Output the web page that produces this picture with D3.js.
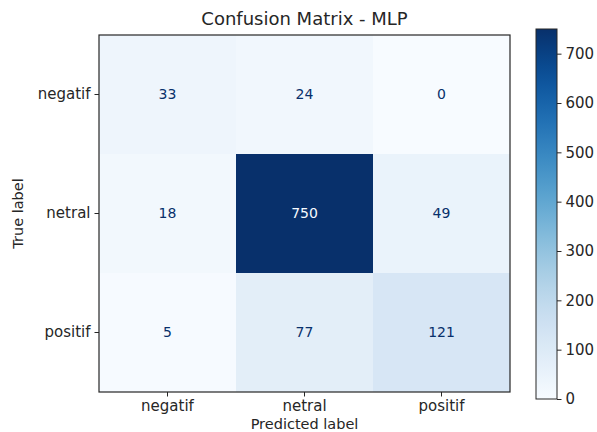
<!DOCTYPE html>
<html>
<head>
<meta charset="utf-8">
<script src="https://cdn.jsdelivr.net/npm/d3@7"></script>
<style>
  body { margin: 0; background: #fff; }
  text { font-family: "DejaVu Sans", sans-serif; fill: #262626; }
</style>
</head>
<body>
<svg width="597" height="432"></svg>
<script>
// Data
const labels = ["negatif", "netral", "positif"];
const row0 = [33, 24, 0];
const row1 = [18, 750, 49];
const row2 = [5, 77, 121];
const colorbarTicks = [0, 100, 200, 300, 400, 500, 600, 700];
const vmax = 750;

const matrix = [row0, row1, row2];

const svg = d3.select("svg");
const box = {left: 99, top: 35, width: 411, height: 357};

const x = d3.scaleBand().domain(labels).range([box.left, box.left + box.width]);
const y = d3.scaleBand().domain(labels).range([box.top, box.top + box.height]);
const color = d3.scaleSequential(d3.interpolateBlues).domain([0, vmax]);

const cells = [];
matrix.forEach((row, i) => row.forEach((v, j) => cells.push({t: labels[i], p: labels[j], v})));

// Cells
svg.selectAll("rect.cell")
  .data(cells)
  .enter()
  .append("rect")
  .attr("class", "cell")
  .attr("x", d => x(d.p))
  .attr("y", d => y(d.t))
  .attr("width", x.bandwidth())
  .attr("height", y.bandwidth())
  .attr("fill", d => color(d.v));

// Cell values
svg.selectAll("text.val")
  .data(cells)
  .enter()
  .append("text")
  .attr("class", "val")
  .attr("x", d => x(d.p) + x.bandwidth() / 2)
  .attr("y", d => y(d.t) + y.bandwidth() / 2)
  .attr("dy", "0.35em")
  .attr("text-anchor", "middle")
  .style("font-size", "14px")
  .style("fill", d => d.v > vmax / 2 ? "#f7fbff" : "#08306b")
  .text(d => d.v);

// Axes
const xAxis = svg.append("g")
  .attr("transform", `translate(0,${box.top + box.height})`)
  .call(d3.axisBottom(x).tickSize(4.5).tickPadding(4));
const yAxis = svg.append("g")
  .attr("transform", `translate(${box.left},0)`)
  .call(d3.axisLeft(y).tickSize(4.5).tickPadding(4));
[xAxis, yAxis].forEach(g => {
  g.select(".domain").remove();
  g.selectAll("line").attr("stroke", "#262626");
  g.selectAll("text").style("font-size", "15px").style("font-family", "DejaVu Sans").attr("fill", "#262626");
});

// Frame
svg.append("rect")
  .attr("x", box.left).attr("y", box.top)
  .attr("width", box.width).attr("height", box.height)
  .attr("fill", "none").attr("stroke", "#262626").attr("stroke-width", 1.2);

// Titles
svg.append("text")
  .attr("x", box.left + box.width / 2).attr("y", 25)
  .attr("text-anchor", "middle")
  .style("font-size", "18px")
  .text("Confusion Matrix - MLP");
svg.append("text")
  .attr("x", box.left + box.width / 2).attr("y", 429)
  .attr("text-anchor", "middle")
  .style("font-size", "14.5px")
  .text("Predicted label");
svg.append("text")
  .attr("transform", `translate(23,${box.top + box.height / 2}) rotate(-90)`)
  .attr("text-anchor", "middle")
  .style("font-size", "14.5px")
  .text("True label");

// Colorbar
const cb = {left: 536, top: 29, width: 21, height: 370};
const cy = d3.scaleLinear().domain([0, vmax]).range([cb.top + cb.height, cb.top]);
const grad = svg.append("defs").append("linearGradient")
  .attr("id", "cbgrad").attr("x1", 0).attr("y1", 1).attr("x2", 0).attr("y2", 0);
d3.range(0, 1.0001, 0.05).forEach(t => {
  grad.append("stop").attr("offset", t).attr("stop-color", d3.interpolateBlues(t));
});
svg.append("rect")
  .attr("x", cb.left).attr("y", cb.top)
  .attr("width", cb.width).attr("height", cb.height)
  .attr("fill", "url(#cbgrad)")
  .attr("stroke", "#262626").attr("stroke-width", 1);
const cAxis = svg.append("g")
  .attr("transform", `translate(${cb.left + cb.width},0)`)
  .call(d3.axisRight(cy).tickValues(colorbarTicks).tickSize(4.5).tickPadding(4));
cAxis.select(".domain").remove();
cAxis.selectAll("line").attr("stroke", "#262626");
cAxis.selectAll("text").style("font-size", "15px").style("font-family", "DejaVu Sans").attr("fill", "#262626");
</script>
</body>
</html>
